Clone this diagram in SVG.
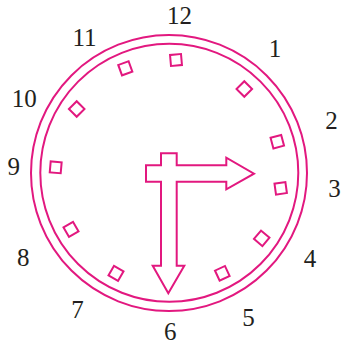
<svg xmlns="http://www.w3.org/2000/svg" width="342" height="348" viewBox="0 0 342 348">
<style>
.ln{fill:none;stroke:#e2187f;stroke-width:2;stroke-linejoin:miter}
.num{font-family:"Liberation Serif","Times New Roman",serif;font-size:25px;fill:#231f20;text-anchor:middle}
</style>
<defs>
<rect id="sq" x="-5.5" y="-5.5" width="11" height="11" class="ln"/>
</defs>
<rect width="342" height="348" fill="#fff"/>
<g id="face">
<circle cx="169" cy="173" r="138" class="ln"/>
<circle cx="169.3" cy="172.8" r="129" class="ln"/>
</g>
<g id="marks">
<use href="#sq" transform="translate(176,60) rotate(-5)"/>
<use href="#sq" transform="translate(244.3,89) rotate(45)"/>
<use href="#sq" transform="translate(277.3,141.7) rotate(-15)"/>
<use href="#sq" transform="translate(280.7,188.3) rotate(-8)"/>
<use href="#sq" transform="translate(261.7,238.3) rotate(40)"/>
<use href="#sq" transform="translate(222.3,273.3) rotate(-25)"/>
<use href="#sq" transform="translate(116,273.3) rotate(30)"/>
<use href="#sq" transform="translate(71,229.3) rotate(-30)"/>
<use href="#sq" transform="translate(55.7,167.3) rotate(5)"/>
<use href="#sq" transform="translate(76.7,109) rotate(45)"/>
<use href="#sq" transform="translate(125.3,68.3) rotate(-20)"/>
</g>
<g id="hands">
<path class="ln" d="M161,153.3 H176.7 V165.3 H226.3 V157.7 L254,173.7 L226.3,189.3 V181.7 H176.7 V265.7 H184.3 L168.3,293.3 L152.7,265.7 H161 V181.7 H146 V165.3 H161 Z"/>
</g>
<g id="numbers">
<text class="num" x="179.5" y="24">12</text>
<text class="num" x="275" y="57.3">1</text>
<text class="num" x="331.5" y="129">2</text>
<text class="num" x="334.5" y="196.7">3</text>
<text class="num" x="310" y="267.3">4</text>
<text class="num" x="248.5" y="326">5</text>
<text class="num" x="170.3" y="340">6</text>
<text class="num" x="77.5" y="318.3">7</text>
<text class="num" x="23.3" y="266">8</text>
<text class="num" x="13.7" y="175">9</text>
<text class="num" x="24.2" y="107.3">10</text>
<text class="num" x="84.5" y="46">11</text>
</g>
</svg>
